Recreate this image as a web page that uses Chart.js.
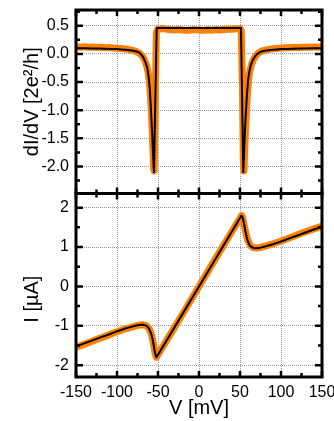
<!DOCTYPE html>
<html>
<head>
<meta charset="utf-8">
<script src="https://cdn.jsdelivr.net/npm/chart.js@4"></script>
<style>
  html, body { margin: 0; padding: 0; background: #fff; }
  #wrap { position: relative; width: 334px; height: 421px; }
</style>
</head>
<body>
<div id="wrap"><canvas id="c" width="334" height="421"></canvas></div>
<script>
// tick positions
const X_TICKS = [-150, -100, -50, 0, 50, 100, 150];
const X_MINOR = [-125, -75, -25, 25, 75, 125];
const TOP_TICKS = [-2, -1.5, -1, -0.5, 0, 0.5];
const TOP_MINOR = [-2.25, -1.75, -1.25, -0.75, -0.25, 0.25, 0.75];
const BOT_TICKS = [-2, -1, 0, 1, 2];
const BOT_MINOR = [-1.5, -0.5, 0.5, 1.5];

// dI/dV fit (black), units 2e^2/h
const G_FIT_V = [-150, -130, -115, -100, -90, -80, -75, -71, -68, -65.5,
  -63, -61.5, -60, -59, -58, -57, -56.2, -55.5, -54.9, -51.6,
  -30, 0, 30, 51.2, 54, 54.6, 55.3, 56.2, 57.3, 58.5,
  60, 61.5, 63, 65.5, 68, 71, 75.5, 80, 90, 100,
  115, 130, 150];
const G_FIT = [0.100, 0.098, 0.093, 0.085, 0.073, 0.055, 0.040, 0.000, -0.060, -0.140,
  -0.250, -0.400, -0.620, -0.880, -1.150, -1.450, -1.720, -1.950, -2.100, 0.460,
  0.460, 0.460, 0.460, 0.460, -2.100, -1.900, -1.620, -1.300, -1.000, -0.720,
  -0.450, -0.310, -0.210, -0.110, -0.050, 0.000, 0.040, 0.055, 0.073, 0.085,
  0.093, 0.098, 0.100];

// dI/dV measured (orange)
const G_DATA_V = [-150, -145, -140, -135, -130, -125, -120, -115, -110, -105,
  -100, -95, -90, -85, -80, -76, -72, -69, -66, -64,
  -62, -60.5, -59.2, -58, -57, -56, -55.2, -54.6, -53.5, -52,
  -50, -45, -40, -35, -30, -25, -20, -15, -10, -5,
  0, 5, 10, 15, 20, 25, 30, 35, 40, 45,
  50, 51.5, 53, 54, 54.8, 55.6, 56.6, 57.8, 59, 60.5,
  62, 64, 66.5, 69, 72, 76, 80, 85, 90, 95,
  100, 105, 110, 115, 120, 125, 130, 135, 140, 145,
  150];
const G_DATA = [0.125, 0.120, 0.126, 0.118, 0.122, 0.115, 0.119, 0.110, 0.112, 0.105,
  0.100, 0.095, 0.088, 0.076, 0.060, 0.040, 0.005, -0.040, -0.120, -0.200,
  -0.330, -0.500, -0.750, -1.050, -1.400, -1.750, -2.050, -2.080, -0.900, 0.380,
  0.440, 0.450, 0.440, 0.430, 0.425, 0.432, 0.424, 0.418, 0.426, 0.430,
  0.424, 0.418, 0.428, 0.422, 0.430, 0.425, 0.432, 0.436, 0.440, 0.446,
  0.450, 0.420, -0.600, -1.900, -2.080, -1.750, -1.400, -1.050, -0.720, -0.450,
  -0.300, -0.190, -0.100, -0.040, 0.010, 0.045, 0.065, 0.080, 0.090, 0.098,
  0.103, 0.108, 0.110, 0.115, 0.112, 0.118, 0.120, 0.117, 0.122, 0.120,
  0.125];

// I fit (black), uA
const I_FIT_V = [-150, -130, -110, -100, -90, -80, -75, -70.5, -67, -64,
  -62, -60, -58, -56, -54.8, -53.5, -51.8, 0, 51.8, 53,
  54, 55, 56, 57, 58, 59, 60, 62, 64, 67,
  70, 75, 80, 90, 100, 110, 130, 150];
const I_FIT = [-1.52, -1.37, -1.22, -1.14, -1.07, -1.01, -0.985, -0.97, -0.98, -1.00,
  -1.04, -1.11, -1.22, -1.40, -1.55, -1.70, -1.80, 0, 1.80, 1.76,
  1.68, 1.58, 1.47, 1.37, 1.27, 1.19, 1.12, 1.04, 1.00, 0.975,
  0.97, 0.985, 1.01, 1.07, 1.14, 1.22, 1.37, 1.52];

// I measured (orange)
const I_DATA_V = [-150, -140, -130, -120, -110, -100, -90, -80, -75, -70,
  -66, -63, -61, -59, -57.5, -56, -54.5, -53, -52, -40,
  -20, 0, 20, 40, 52, 53, 54.5, 56, 57.5, 59,
  61, 63, 66, 70, 75, 80, 90, 100, 110, 120,
  130, 140, 150];
const I_DATA = [-1.54, -1.47, -1.39, -1.31, -1.23, -1.15, -1.08, -1.02, -0.99, -0.975,
  -0.985, -1.02, -1.07, -1.16, -1.26, -1.40, -1.58, -1.74, -1.80, -1.39,
  -0.70, 0, 0.70, 1.39, 1.80, 1.76, 1.62, 1.47, 1.33, 1.21,
  1.10, 1.03, 0.985, 0.975, 0.99, 1.02, 1.08, 1.15, 1.23, 1.31,
  1.39, 1.46, 1.53];

const ORANGE = "#ff8000";
const GRID = "#999";
const FONT = "'Liberation Sans', Arial, sans-serif";

function pts(xs, ys) {
  return xs.map((x, i) => ({ x, y: ys[i] }));
}

// thick frame with inward ticks on every side of both panels
const framePlugin = {
  id: "frame",
  afterDatasetsDraw(chart) {
    const { ctx, chartArea: a, scales } = chart;
    const sx = scales.x;
    const panels = [
      [scales.yTop, TOP_TICKS, TOP_MINOR],
      [scales.yBot, BOT_TICKS, BOT_MINOR],
    ];
    ctx.save();
    ctx.strokeStyle = "#000";
    ctx.lineCap = "butt";
    panels.forEach(([s, major, minor]) => {
      ctx.lineWidth = 2.5;
      ctx.beginPath();
      const yTick = (v, len) => {
        const p = s.getPixelForValue(v);
        ctx.moveTo(a.left, p); ctx.lineTo(a.left + len, p);
        ctx.moveTo(a.right, p); ctx.lineTo(a.right - len, p);
      };
      const xTick = (v, len) => {
        const p = sx.getPixelForValue(v);
        ctx.moveTo(p, s.top); ctx.lineTo(p, s.top + len);
        ctx.moveTo(p, s.bottom); ctx.lineTo(p, s.bottom - len);
      };
      major.forEach((v) => yTick(v, 7));
      minor.forEach((v) => yTick(v, 4));
      X_TICKS.forEach((v) => xTick(v, 6));
      X_MINOR.forEach((v) => xTick(v, 4));
      ctx.stroke();
      ctx.lineWidth = 3;
      ctx.strokeRect(a.left, s.top, a.right - a.left, s.bottom - s.top);
    });
    ctx.restore();
  },
};

function yAxis(min, max, ticks, title, fmt, weight) {
  return {
    type: "linear",
    position: "left",
    stack: "panels",
    stackWeight: 1,
    weight,
    min,
    max,
    afterBuildTicks: (s) => { s.ticks = ticks.map((v) => ({ value: v })); },
    afterFit: (s) => { s.width = 76; s.paddingTop = 0; s.paddingBottom = 0; },
    border: { display: false, dash: [1, 1] },
    grid: { color: GRID, lineWidth: 1, drawTicks: false },
    ticks: { color: "#000", padding: 7, autoSkip: false, font: { family: FONT, size: 16 }, callback: fmt },
    title: { display: true, text: title, color: "#000", padding: { top: 20, bottom: 0 }, font: { family: FONT, size: 20 } },
  };
}

new Chart(document.getElementById("c"), {
  type: "line",
  data: {
    datasets: [
      { data: pts(G_FIT_V, G_FIT), yAxisID: "yTop", borderColor: "#000", borderWidth: 2 },
      { data: pts(G_DATA_V, G_DATA), yAxisID: "yTop", borderColor: ORANGE, borderWidth: 7 },
      { data: pts(I_FIT_V, I_FIT), yAxisID: "yBot", borderColor: "#000", borderWidth: 2 },
      { data: pts(I_DATA_V, I_DATA), yAxisID: "yBot", borderColor: ORANGE, borderWidth: 7 },
    ],
  },
  options: {
    responsive: false,
    animation: false,
    layout: { padding: { top: 10, right: 12, left: 0, bottom: 0 } },
    elements: {
      point: { radius: 0 },
      // tiny tension keeps lines straight but avoids the per-pixel fast path
      line: { tension: 0.0001, borderJoinStyle: "round", borderCapStyle: "round" },
    },
    plugins: { legend: { display: false }, tooltip: { enabled: false } },
    scales: {
      x: {
        type: "linear",
        min: -150,
        max: 150,
        afterBuildTicks: (s) => { s.ticks = X_TICKS.map((v) => ({ value: v })); },
        afterFit: (s) => { s.height = 44; s.paddingLeft = 0; s.paddingRight = 0; },
        border: { display: false, dash: [1, 1] },
        grid: { color: GRID, lineWidth: 1, drawTicks: false },
        ticks: { color: "#000", padding: 6, maxRotation: 0, autoSkip: false, font: { family: FONT, size: 16 }, callback: (v) => String(v) },
        title: { display: true, text: "V [mV]", color: "#000", padding: { top: 0, bottom: 1 }, font: { family: FONT, size: 20 } },
      },
      yTop: yAxis(-2.48, 0.78, TOP_TICKS, "dI/dV [2e²/h]", (v) => v.toFixed(1), 1),
      yBot: yAxis(-2.3, 2.36, BOT_TICKS, "I [µA]     ", (v) => String(v), 0),
    },
  },
  plugins: [framePlugin],
});
</script>
</body>
</html>
